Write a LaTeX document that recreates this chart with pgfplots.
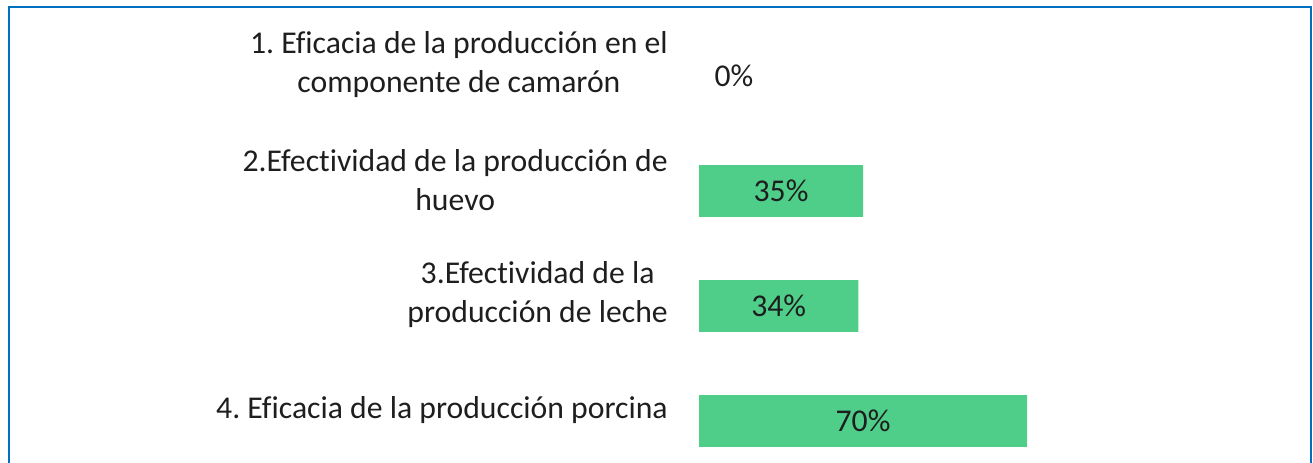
\documentclass[border=0pt]{standalone}
\usepackage{fontspec}
\setmainfont{Carlito}[Ligatures={NoCommon}]
\usepackage{pgfplots}
\pgfplotsset{compat=1.18}
\definecolor{bargreen}{RGB}{79,206,137}
\definecolor{frameblue}{RGB}{0,112,192}
\definecolor{txt}{RGB}{30,30,30}
\frenchspacing
\begin{document}
\begin{tikzpicture}[x=1bp,y=1bp]
\begin{axis}[
  at={(699bp,444.5bp)}, anchor=north west,
  scale only axis, width=468.6bp, height=460bp,
  xmin=0, xmax=100, ymin=0.5, ymax=4.5, y dir=reverse,
  xbar, bar width=0.452, bar shift=0pt,
  axis line style={draw=none}, major tick length=0pt,
  xtick=\empty,
  ytick={1,2,3,4},
  yticklabels={{1. Eficacia de la producción en el\\componente de camarón},
               {2.Efectividad de la producción de\\huevo},
               {3.Efectividad de la\\producción de leche},
               {4. Eficacia de la producción porcina}},
  yticklabel style={align=center, inner sep=0pt, anchor=east, xshift=-31bp, yshift=11bp,
     font=\fontsize{31.7bp}{39bp}\selectfont, text=txt},
  clip=false,
  /pgf/number format/assume math mode=true,
  visualization depends on={rawx \as \rawx},
  nodes near coords={\pgfmathprintnumber{\pgfplotspointmeta}\%},
  every node near coord/.append style={anchor=center, inner sep=0pt,
     font=\fontsize{31.7bp}{39bp}\selectfont, text=txt,
     xshift={((\rawx==0)*35-\rawx*2.343)*1bp}},
]
\addplot[fill=none, draw=none] coordinates {(0,1)};
\addplot[fill=bargreen, draw=none] coordinates {(35,2) (34,3) (70,4)};
\end{axis}
\pgfresetboundingbox
\useasboundingbox (0,0) rectangle (1313,463);
\draw[frameblue, line width=2] (9,-10) rectangle (1310.5,456);
\end{tikzpicture}
\end{document}
